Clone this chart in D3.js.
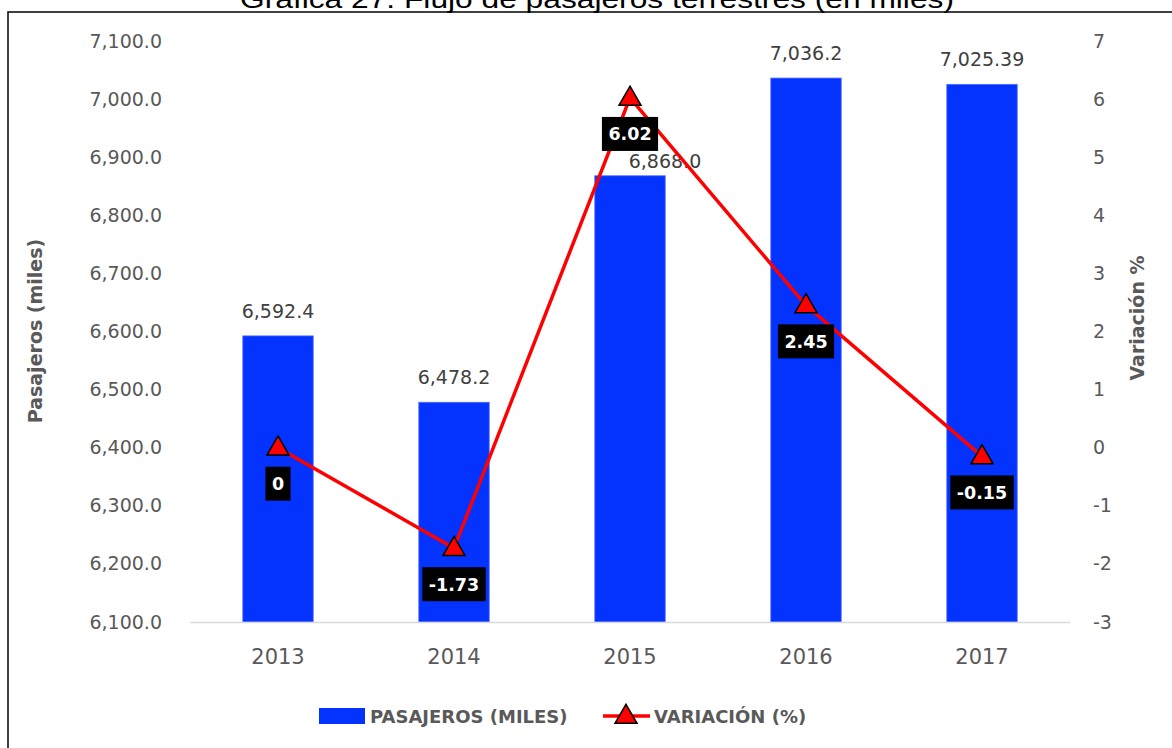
<!DOCTYPE html>
<html><head><meta charset="utf-8">
<script src="https://cdn.jsdelivr.net/npm/d3@7"></script>
<style>html,body{margin:0;padding:0;background:#fff;overflow:hidden}</style>
</head><body>
<svg id="chart" width="1172" height="748"></svg>
<script>
const years = ["2013","2014","2015","2016","2017"];
const pasajeros = [6592.4, 6478.2, 6868.0, 7036.2, 7025.39];
const pasajerosLabels = ["6,592.4","6,478.2","6,868.0","7,036.2","7,025.39"];
const variacion = [0, -1.73, 6.02, 2.45, -0.15];
const variacionLabels = ["0","-1.73","6.02","2.45","-0.15"];
const leftTicks = [6100,6200,6300,6400,6500,6600,6700,6800,6900,7000,7100];
const rightTicks = [-3,-2,-1,0,1,2,3,4,5,6,7];

const svg = d3.select("#chart");
const FONT = "DejaVu Sans, Verdana, sans-serif";
const GRAY = "#595959";
const m = {left:190, right:1070, top:41, bottom:622};

// border & title
svg.append("rect").attr("x",8).attr("y",12).attr("width",1180).attr("height",760)
  .attr("fill","none").attr("stroke","#000").attr("stroke-width",1.5);
svg.append("text").attr("x",597).attr("y",8).attr("text-anchor","middle")
  .attr("font-family","Liberation Sans, Arial, sans-serif").attr("font-size",25)
  .attr("textLength",714).attr("lengthAdjust","spacingAndGlyphs").attr("fill","#000")
  .text("Gráfica 27. Flujo de pasajeros terrestres (en miles)");

const x = d3.scaleBand().domain(years).range([m.left,m.right]).paddingInner(0.6).paddingOuter(0.3);
const xc = d => x(d) + x.bandwidth()/2;
const yL = d3.scaleLinear().domain([6100,7100]).range([m.bottom,m.top]);
const yR = d3.scaleLinear().domain([-3,7]).range([m.bottom,m.top]);

// axes
const axL = svg.append("g").attr("transform",`translate(${m.left-8},0)`)
  .call(d3.axisLeft(yL).tickValues(leftTicks).tickSize(0).tickPadding(20).tickFormat(d3.format(",.1f")));
const axR = svg.append("g").attr("transform",`translate(${m.right+3},0)`)
  .call(d3.axisRight(yR).tickValues(rightTicks).tickSize(0).tickPadding(20).tickFormat(d => String(d)));
[axL,axR].forEach(a=>{a.select(".domain").remove();
  a.selectAll("text").attr("font-family",FONT).attr("font-size",19).attr("fill",GRAY);});

// bars
svg.append("g").selectAll("rect").data(years).join("rect")
  .attr("x",d=>x(d)).attr("width",x.bandwidth())
  .attr("y",(d,i)=>yL(pasajeros[i])).attr("height",(d,i)=>m.bottom-yL(pasajeros[i]))
  .attr("fill","#0433FF").attr("stroke","#4d6bff").attr("stroke-width",0.8);

// baseline axis
const axB = svg.append("g").attr("transform",`translate(0,${m.bottom})`)
  .call(d3.axisBottom(x).tickSize(0).tickPadding(27));
axB.select(".domain").attr("stroke","#d9d9d9").attr("stroke-width",1.5);
axB.selectAll("text").attr("font-family",FONT).attr("font-size",21).attr("fill",GRAY);

// bar labels (2015 label displaced right as in the original, to dodge the 6.02 box)
const labDx = [0,0,35,0,0], labDy = [18,18,8,18,18];
svg.append("g").selectAll("text").data(years).join("text")
  .attr("x",(d,i)=>xc(d)+labDx[i]).attr("y",(d,i)=>yL(pasajeros[i])-labDy[i])
  .attr("text-anchor","middle").attr("font-family",FONT).attr("font-size",19).attr("fill","#404040")
  .text((d,i)=>pasajerosLabels[i]);

// line
const line = d3.line().x((d,i)=>xc(years[i])).y(d=>yR(d));
svg.append("path").datum(variacion).attr("d",line).attr("fill","none")
  .attr("stroke","#FF0000").attr("stroke-width",3.5).attr("stroke-linejoin","round");
const tri = d3.symbol().type(d3.symbolTriangle).size(210);
svg.append("g").selectAll("path").data(variacion).join("path")
  .attr("d",tri).attr("transform",(d,i)=>`translate(${xc(years[i])},${yR(d)+1})`)
  .attr("fill","#FF0000").attr("stroke","#000").attr("stroke-width",1.5);

// variation labels
const lg = svg.append("g").selectAll("g").data(variacion).join("g")
  .attr("transform",(d,i)=>`translate(${xc(years[i])},${yR(d)+36})`);
lg.append("text").attr("text-anchor","middle").attr("dy","0.36em")
  .attr("font-family",FONT).attr("font-weight","bold").attr("font-size",17.5).attr("fill","#fff")
  .text((d,i)=>variacionLabels[i]);
lg.each(function(){
  const g=d3.select(this); const t=g.select("text").node().getBBox();
  g.insert("rect","text").attr("x",-t.width/2-6.5).attr("y",-17).attr("width",t.width+13).attr("height",34).attr("fill","#000");
});

// axis titles
svg.append("text").attr("transform","translate(42,331) rotate(-90)").attr("text-anchor","middle")
  .attr("font-family",FONT).attr("font-weight","bold").attr("font-size",19).attr("fill",GRAY)
  .text("Pasajeros (miles)");
svg.append("text").attr("transform","translate(1144,318) rotate(-90)").attr("text-anchor","middle")
  .attr("font-family",FONT).attr("font-weight","bold").attr("font-size",19).attr("fill",GRAY)
  .text("Variación %");

// legend
const leg = svg.append("g");
leg.append("rect").attr("x",319).attr("y",708).attr("width",46).attr("height",16).attr("fill","#0433FF");
leg.append("text").attr("x",370).attr("y",723).attr("font-family",FONT).attr("font-weight","bold")
  .attr("font-size",18).attr("fill",GRAY).text("PASAJEROS (MILES)");
leg.append("line").attr("x1",603).attr("x2",650).attr("y1",716).attr("y2",716).attr("stroke","#FF0000").attr("stroke-width",3.5);
leg.append("path").attr("d",tri).attr("transform","translate(626,717)").attr("fill","#FF0000").attr("stroke","#000").attr("stroke-width",1.5);
leg.append("text").attr("x",654).attr("y",723).attr("font-family",FONT).attr("font-weight","bold")
  .attr("font-size",18).attr("fill",GRAY).text("VARIACIÓN (%)");
</script>
</body></html>
